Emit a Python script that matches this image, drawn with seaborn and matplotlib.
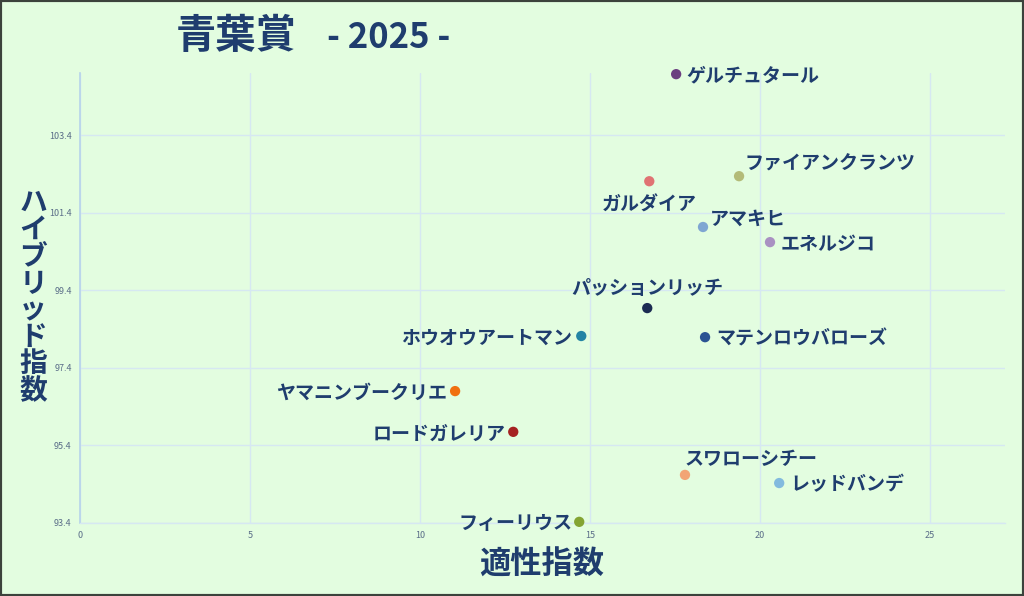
import matplotlib
matplotlib.use("Agg")
import matplotlib.pyplot as plt
import seaborn as sns
import pandas as pd
from matplotlib.patches import Rectangle

horses = ["ゲルチュタール", "ガルダイア", "ファイアンクランツ", "アマキヒ", "エネルジコ",
          "パッションリッチ", "ホウオウアートマン", "マテンロウバローズ", "ヤマニンブークリエ",
          "ロードガレリア", "スワローシチー", "レッドバンデ", "フィーリウス"]
aptitude = [17.53, 16.74, 19.38, 18.32, 20.29, 16.68, 14.74, 18.38, 11.03, 12.74, 17.79, 20.56, 14.68]
hybrid = [104.97, 102.21, 102.34, 101.03, 100.64, 98.94, 98.22, 98.19, 96.80, 95.75, 94.64, 94.43, 93.43]
yticks = [93.4, 95.4, 97.4, 99.4, 101.4, 103.4]
xticks = [0, 5, 10, 15, 20, 25]

colors = ["#6b3f80", "#e07373", "#b3bb78", "#7fa6d2", "#a991c2", "#1b2b52", "#2384a4",
          "#2b5393", "#f07010", "#a52222", "#f2a575", "#82bade", "#84a433"]
# label placement (offset pixels: right/up positive, ha, va)
label_pos = {
    "ゲルチュタール": (10, -2, "left", "center"),
    "ガルダイア": (0, -24, "center", "center"),
    "ファイアンクランツ": (5, 12, "left", "center"),
    "アマキヒ": (7, 8, "left", "center"),
    "エネルジコ": (11, -2, "left", "center"),
    "パッションリッチ": (0, 20, "center", "center"),
    "ホウオウアートマン": (-9, -2, "right", "center"),
    "マテンロウバローズ": (11, -2, "left", "center"),
    "ヤマニンブークリエ": (-8, -2, "right", "center"),
    "ロードガレリア": (-8, -2, "right", "center"),
    "スワローシチー": (0, 15, "left", "center"),
    "レッドバンデ": (11, -2, "left", "center"),
    "フィーリウス": (-7, -2, "right", "center"),
}

df = pd.DataFrame({"horse": horses, "x": aptitude, "y": hybrid})

sns.set_theme(style="white")
plt.rcParams['font.family'] = ['Noto Sans CJK JP', 'DejaVu Sans']

bg = "#e3fde0"
fig = plt.figure(figsize=(10.24, 5.96), dpi=100, facecolor=bg)
ax = fig.add_axes([80/1024, 1-523/596, (1005-80)/1024, (523-73)/596])
ax.set_facecolor(bg)

sns.scatterplot(data=df, x="x", y="y", hue="horse", palette=colors, s=55,
                edgecolor="none", legend=False, ax=ax, zorder=3, clip_on=False)

txtc = "#1f3d6e"
for h, xv, yv in zip(horses, aptitude, hybrid):
    dx, dy, ha, va = label_pos[h]
    ax.annotate(h, (xv, yv), xytext=(dx, dy), textcoords="offset pixels",
                ha=ha, va=va, fontsize=13.7, fontweight="bold", color=txtc, zorder=4)

ax.set_xlim(0, 27.2)
ax.set_ylim(93.4, 105.0)
ax.set_xticks(xticks)
ax.set_yticks(yticks)
ax.set_xticklabels([str(v) for v in xticks])
ax.set_yticklabels([f"{v:.1f}" for v in yticks])
ax.tick_params(axis="both", labelsize=6.5, colors="#5a6d88", length=0, pad=6)
ax.grid(True, color="#d6e8f2", linewidth=1)
for s in ["top", "right"]:
    ax.spines[s].set_visible(False)
ax.spines["left"].set_color("#b6d3ea")
ax.spines["left"].set_linewidth(1.2)
ax.spines["bottom"].set_color("#d6e8f2")
ax.spines["bottom"].set_linewidth(1)
ax.set_xlabel("")
ax.set_ylabel("")

fig.text(542/1024, 1-565/596, "適性指数", ha="center", va="center",
         fontsize=22.5, fontweight="bold", color=txtc)
fig.text(33/1024, 1-297/596, "\n".join("ハイブリッド指数"), ha="center", va="center",
         fontsize=20, fontweight="bold", color=txtc, linespacing=0.95)
fig.text(176/1024, 1-37/596, "青葉賞", ha="left", va="center",
         fontsize=29, fontweight="bold", color=txtc)
fig.text(327/1024, 1-37/596, "- 2025 -", ha="left", va="center",
         fontsize=25, fontweight="bold", color=txtc)

fig.patches.append(Rectangle((0, 0), 1, 1, transform=fig.transFigure, fill=False,
                             edgecolor="#3c423c", linewidth=3, zorder=10))

fig.savefig("out.png", dpi=100, facecolor=bg)
